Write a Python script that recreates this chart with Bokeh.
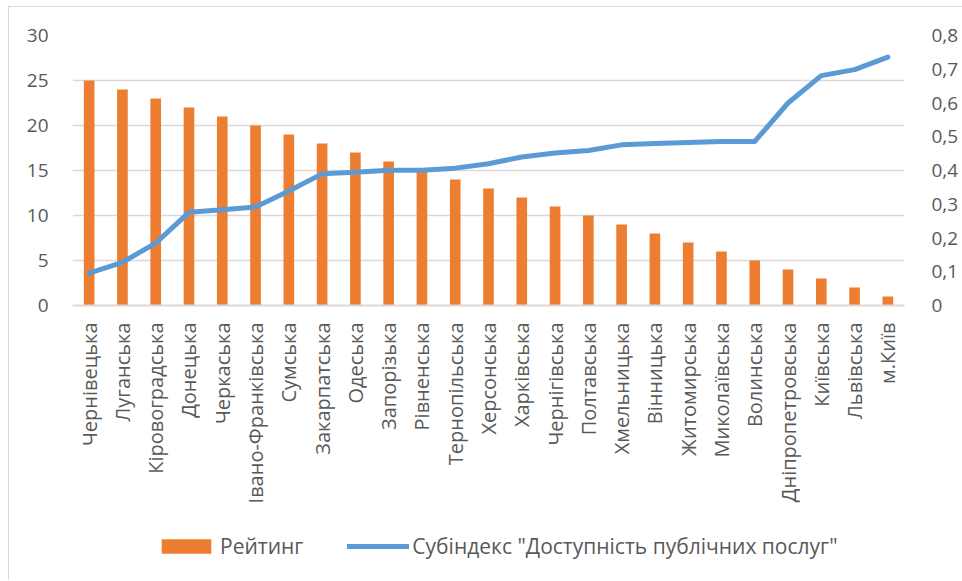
from bokeh.plotting import figure
from bokeh.models import (FactorRange, Range1d, LinearAxis, FixedTicker,
                          CustomJSTickFormatter, Legend, LegendItem)
from bokeh.layouts import column
from bokeh.embed import file_html
from bokeh.resources import INLINE
import math

regions = ["Чернівецька", "Луганська", "Кіровоградська", "Донецька", "Черкаська",
           "Івано-Франківська", "Сумська", "Закарпатська", "Одеська", "Запорізька",
           "Рівненська", "Тернопільська", "Херсонська", "Харківська", "Чернігівська",
           "Полтавська", "Хмельницька", "Вінницька", "Житомирська", "Миколаївська",
           "Волинська", "Дніпропетровська", "Київська", "Львівська", "м.Київ"]
rating = [25, 24, 23, 22, 21, 20, 19, 18, 17, 16, 15, 14, 13, 12, 11, 10, 9, 8, 7, 6, 5, 4, 3, 2, 1]
subindex = [0.096, 0.128, 0.185, 0.276, 0.284, 0.292, 0.339, 0.390, 0.395, 0.401, 0.401,
            0.407, 0.420, 0.440, 0.452, 0.459, 0.476, 0.480, 0.483, 0.486, 0.486,
            0.600, 0.681, 0.699, 0.736]
left_ticks = [0, 5, 10, 15, 20, 25, 30]
right_ticks = [0, 0.1, 0.2, 0.3, 0.4, 0.5, 0.6, 0.7, 0.8]
series_names = ["Рейтинг", 'Субіндекс "Доступність публічних послуг"']

FONT = "Open Sans"
TXT = "#595959"
GRID = "#d9d9d9"
ORANGE = "#ED7D31"
BLUE = "#5B9BD5"

p = figure(width=953, height=521, output_backend="svg", toolbar_location=None,
           x_range=FactorRange(*regions, range_padding=0),
           y_range=Range1d(left_ticks[0], left_ticks[-1]),
           min_border_left=63, min_border_right=58, min_border_top=28,
           min_border_bottom=223)
p.outline_line_color = None
p.background_fill_color = "white"
p.border_fill_color = "white"

p.extra_y_ranges = {"idx": Range1d(right_ticks[0], right_ticks[-1])}

bars = p.vbar(x=regions, top=rating, width=0.32, color=ORANGE, line_color=None)
ln = p.line(x=regions, y=subindex, y_range_name="idx", line_width=5, color=BLUE,
            line_cap="round", line_join="round")

# left axis
ya = p.yaxis[0]
ya.ticker = FixedTicker(ticks=left_ticks)
ya.axis_line_color = None
ya.major_tick_line_color = None
ya.minor_tick_line_color = None
ya.major_label_standoff = 18
ya.major_label_text_font = FONT
ya.major_label_text_font_size = "19px"
ya.major_label_text_color = TXT

ra = LinearAxis(y_range_name="idx", ticker=FixedTicker(ticks=right_ticks),
                formatter=CustomJSTickFormatter(code="return tick == 0 ? '0' : tick.toFixed(1).replace('.', ',');"))
ra.axis_line_color = None
ra.major_tick_line_color = None
ra.minor_tick_line_color = None
ra.major_label_standoff = 21
ra.major_label_text_font = FONT
ra.major_label_text_font_size = "19px"
ra.major_label_text_color = TXT
p.add_layout(ra, "right")

xa = p.xaxis[0]
xa.major_label_orientation = math.pi / 2
xa.axis_line_color = GRID
xa.axis_line_width = 2
xa.major_tick_line_color = None
xa.minor_tick_line_color = None
xa.major_label_standoff = 11
xa.major_label_text_font = FONT
xa.major_label_text_font_size = "20px"
xa.major_label_text_color = TXT

p.xgrid.grid_line_color = None
p.ygrid.ticker = FixedTicker(ticks=left_ticks)
p.ygrid.grid_line_color = GRID
p.ygrid.grid_line_width = 1.5

# legend strip (same series, drawn outside its visible y range; only the legend shows)
p2 = figure(width=953, height=52, output_backend="svg", toolbar_location=None,
            x_range=FactorRange(*regions, range_padding=0), y_range=Range1d(100, 101),
            min_border=0, min_border_left=0, min_border_right=0,
            min_border_top=0, min_border_bottom=0)
p2.axis.visible = False
p2.grid.visible = False
p2.outline_line_color = None
p2.border_fill_color = "white"
lbar = p2.vbar(x=regions, top=rating, width=0.32, color=ORANGE, line_color=None)
lline = p2.line(x=regions, y=subindex, line_width=5, color=BLUE, line_cap="round")

legend = Legend(items=[LegendItem(label=series_names[0], renderers=[lbar]),
                       LegendItem(label=series_names[1], renderers=[lline])],
                orientation="horizontal", location=(83, 20),
                glyph_width=62, glyph_height=18, label_standoff=3, spacing=44,
                label_height=20, padding=0, margin=0, border_line_color=None,
                background_fill_alpha=0,
                label_text_font=FONT, label_text_font_size="21px",
                label_text_color=TXT)
p2.add_layout(legend, "center")

layout = column(p, p2, spacing=0,
                styles={"margin-left": "8px", "margin-top": "6px",
                        "border-left": "1px solid #d9d9d9", "border-top": "1px solid #d9d9d9"})

open("out.html", "w").write(file_html(layout, INLINE))
